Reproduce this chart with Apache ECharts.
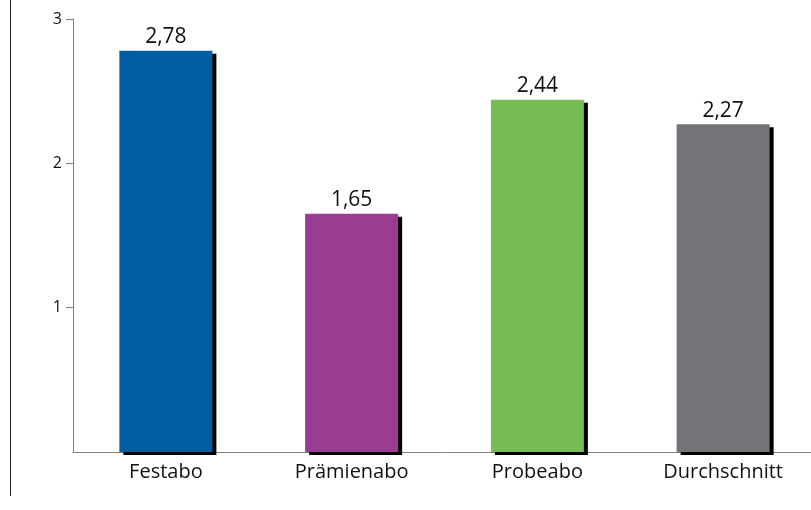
<!DOCTYPE html>
<html><head><meta charset="utf-8">
<script src="https://cdn.jsdelivr.net/npm/echarts@6/dist/echarts.min.js"></script>
<style>html,body{margin:0;padding:0;background:#fff;overflow:hidden;width:811px;height:510px}#c{width:816px;height:510px}</style>
</head><body><div id="c"></div>
<script>
const categories = ["Festabo", "Prämienabo", "Probeabo", "Durchschnitt"];
const values = [2.78, 1.65, 2.44, 2.27];
const colors = ["#005da0", "#9a3c91", "#77bd53", "#737478"];
const yTicks = [1, 2, 3];

const chart = echarts.init(document.getElementById('c'), null, {renderer: 'canvas'});
chart.setOption({
  animation: false,
  grid: {left: 73, right: 0, top: 19, bottom: 58, containLabel: false},
  graphic: [{type: 'line', shape: {x1: 10.5, y1: 0, x2: 10.5, y2: 496}, style: {stroke: '#222', lineWidth: 1}}],
  xAxis: {
    type: 'category', data: categories,
    axisLine: {lineStyle: {color: '#808080', width: 1}},
    axisTick: {show: false},
    axisLabel: {color: '#111', fontSize: 20, fontWeight: 500, fontFamily: 'Open Sans', margin: 10}
  },
  yAxis: {
    type: 'value', min: 0, max: 3, interval: 1,
    splitLine: {show: false},
    axisLine: {show: true, lineStyle: {color: '#808080', width: 1}},
    axisTick: {show: true, length: 7, customValues: yTicks, lineStyle: {color: '#808080'}},
    axisLabel: {color: '#111', fontSize: 16, fontFamily: 'Open Sans', margin: 11, customValues: yTicks}
  },
  series: [{
    type: 'bar',
    barWidth: 93,
    data: values.map((v, i) => ({value: v, itemStyle: {color: colors[i]}})),
    itemStyle: {shadowColor: '#000', shadowOffsetX: 4, shadowOffsetY: 3, shadowBlur: 0},
    label: {show: true, position: 'top', distance: 3, color: '#111', fontSize: 21, fontWeight: 500, fontFamily: 'Open Sans',
      formatter: p => p.value.toFixed(2).replace('.', ',')}
  }]
});
</script></body></html>
